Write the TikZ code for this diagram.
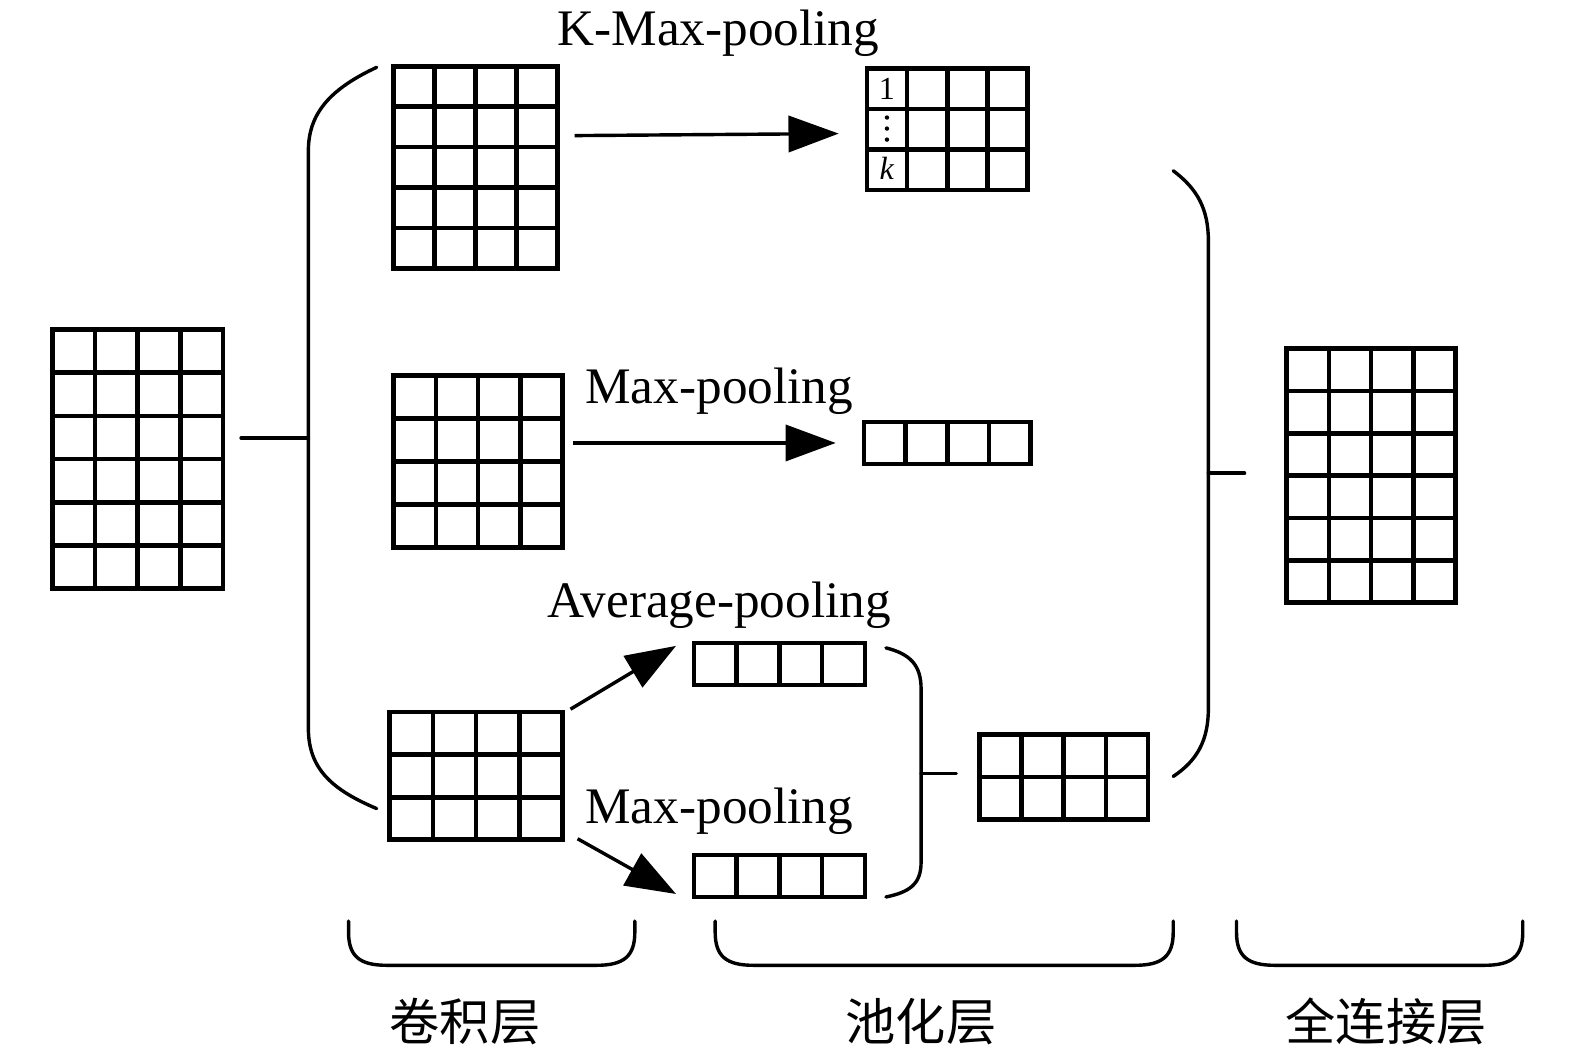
\documentclass[tikz,border=0pt]{standalone}
\usepackage{fontspec}
\setmainfont{Liberation Serif}
\newfontfamily\cjk{Noto Sans CJK SC}
\usetikzlibrary{arrows.meta}
\tikzset{
  gridbox/.style={draw, line width=4.6pt, inner sep=0pt, outer sep=0pt, line join=miter},
  gridline/.style={line width=4.6pt, line cap=rect},
  brk/.style={line width=3.4pt, line cap=round},
  arr/.style={line width=3.4pt, -{Triangle[length=50pt,width=36pt]}},
  lbl/.style={font=\fontsize{51}{60}\selectfont, inner sep=0pt, anchor=base},
  cjklbl/.style={font=\cjk\fontsize{50}{58}\selectfont, inner sep=0pt},
  cell/.style={font=\fontsize{32}{36}\selectfont, inner sep=0pt}
}
\newcommand\mygrid[7]{%
  \pgfmathsetmacro\gw{#4-#2}\pgfmathsetmacro\gh{#5-#3}%
  \node[gridbox, minimum width=\gw pt, minimum height=\gh pt, anchor=north west] (#1) at (#2,#3) {};
  \foreach \i in {0,...,#6}{\draw[gridline] ({#2+\i*(#4-#2)/#6},#3) -- ({#2+\i*(#4-#2)/#6},#5);}
  \foreach \j in {0,...,#7}{\draw[gridline] (#2,{#3+\j*(#5-#3)/#7}) -- (#4,{#3+\j*(#5-#3)/#7});}
}
\begin{document}
\begin{tikzpicture}[x=1pt,y=-1pt]
\useasboundingbox (0,0) rectangle (1568,1044);
% grids
\mygrid{inp}{52}{328}{222}{586}{4}{6}
\mygrid{conv1}{392}{66}{555}{267}{4}{5}
\mygrid{conv2}{392}{374}{560}{545}{4}{4}
\mygrid{conv3}{388}{709}{560}{836}{4}{3}
\mygrid{kmax}{863}{68}{1023}{189}{4}{3}
\mygrid{mp1}{860}{420}{1026}{462}{4}{1}
\mygrid{avg}{691}{640}{861}{682}{4}{1}
\mygrid{mp2}{691}{851}{861}{893}{4}{1}
\mygrid{comb}{975}{731}{1143}{816}{4}{2}
\mygrid{out}{1281}{347}{1449}{600}{4}{6}
% k-max column entries
\node[cell] (c1) at (883,88) {1};
\coordinate (c2) at (883,128);
\foreach \d in {-11,0,11} \fill ([yshift=-\d pt]c2) circle (2.2pt);
\node[cell] (c3) at (883,168) {\textit{k}};
% labels
\node[lbl] (t1) at (715,45) {K-Max-pooling};
\node[lbl] (t2) at (716,402) {Max-pooling};
\node[lbl] (t3) at (716,615) {Average-pooling};
\node[lbl] (t4) at (716,820) {Max-pooling};
\node[cjklbl] (l1) at (463,1017) {卷积层};
\node[cjklbl] (l2) at (917,1017) {池化层};
\node[cjklbl] (l3) at (1380,1017) {全连接层};
% arrow end points
\coordinate (a1s) at (572,135); \coordinate (a1e) at (835,133);
\coordinate (a2s) at (570,441); \coordinate (a2e) at (832,441);
\coordinate (a3s) at (568,706); \coordinate (a3e) at (673,643);
\coordinate (a4s) at (575,835); \coordinate (a4e) at (673,890);
\draw[arr] (a1s) -- (a1e);
\draw[arr] (a2s) -- (a2e);
\draw[arr] (a3s) -- (a3e);
\draw[arr] (a4s) -- (a4e);
% left bracket
\coordinate (lt) at (240,436); \coordinate (lb) at (307,436);
\draw[brk] (lt) -- (lb);
\draw[brk] (375,67) .. controls (330,88) and (307,112) .. (307,150) -- (307,725) .. controls (307,765) and (330,786) .. (375,805);
% small bracket
\coordinate (st) at (917,770); \coordinate (se) at (952,770);
\draw[brk] (882,645) .. controls (906,651) and (917,662) .. (917,686) -- (917,858) .. controls (917,880) and (906,888) .. (882,893);
\draw[brk] (st) -- (se);
% big right bracket
\coordinate (rt) at (1203,471); \coordinate (re) at (1239,471);
\draw[brk] (1168,170) .. controls (1192,188) and (1203,208) .. (1203,240) -- (1203,705) .. controls (1203,737) and (1192,757) .. (1168,773);
\draw[brk] (rt) -- (re);
% bottom brackets
\draw[brk] (347,917) -- (347,928) .. controls (347,952) and (358,961) .. (385,961) -- (594,961) .. controls (621,961) and (632,952) .. (632,928) -- (632,917);
\draw[brk] (712,917) -- (712,928) .. controls (712,952) and (723,961) .. (750,961) -- (1130,961) .. controls (1157,961) and (1168,952) .. (1168,928) -- (1168,917);
\draw[brk] (1231,917) -- (1231,928) .. controls (1231,952) and (1242,961) .. (1269,961) -- (1478,961) .. controls (1505,961) and (1516,952) .. (1516,928) -- (1516,917);
\end{tikzpicture}
\end{document}
